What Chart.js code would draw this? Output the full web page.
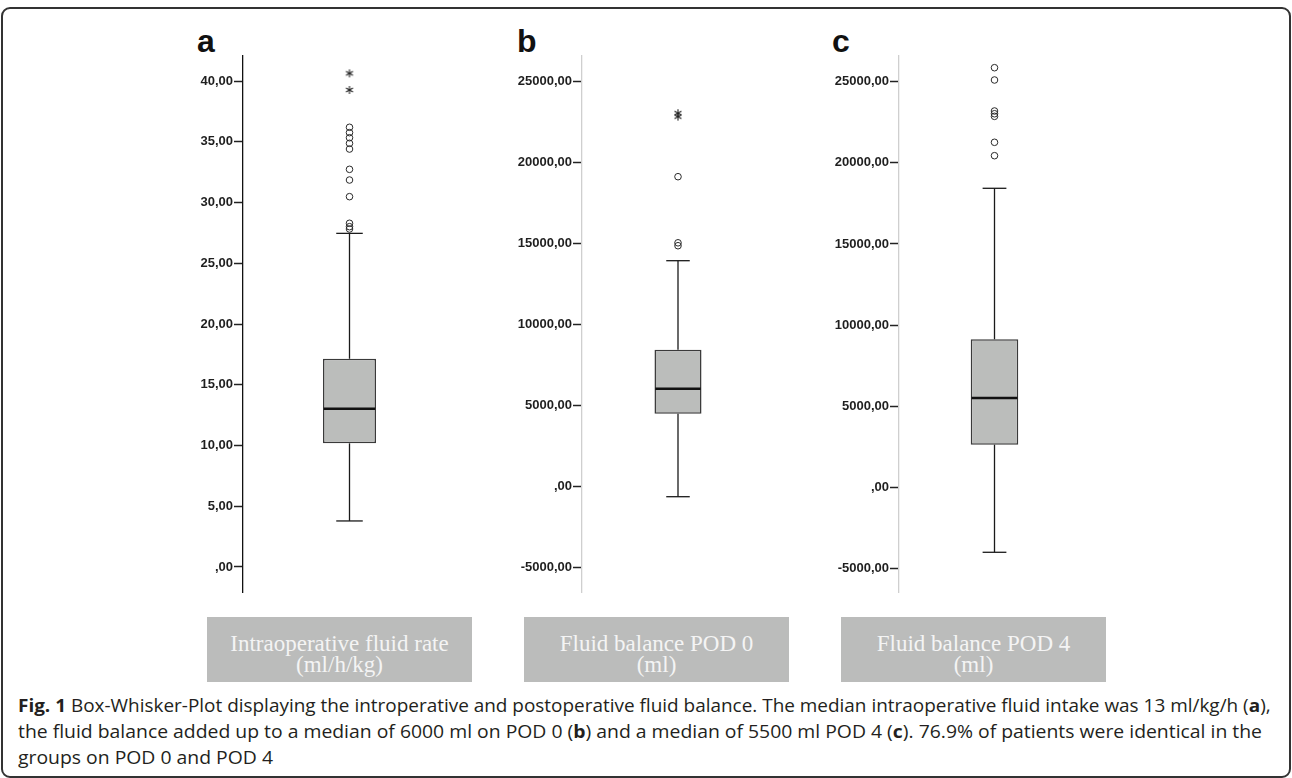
<!DOCTYPE html>
<html>
<head>
<meta charset="utf-8">
<script src="https://cdn.jsdelivr.net/npm/chart.js@4.4.1/dist/chart.umd.min.js"></script>
<style>
  html, body { margin: 0; padding: 0; background: #fff; }
  body { width: 1292px; height: 778px; position: relative; overflow: hidden; font-family: "Liberation Sans", Arial, sans-serif; }
  .frame { position: absolute; left: 1px; top: 7px; width: 1286px; height: 767px; border: 2px solid #333; border-radius: 9px; }
  .panel { position: absolute; top: 55px; }
  .letter { position: absolute; top: 25px; font: bold 32px/32px "Liberation Sans", Arial, sans-serif; color: #111; }
  .label { position: absolute; top: 617px; width: 265px; height: 65px; background: #bbbcbb; color: #f4f4f4;
           font: 23px/21px "Liberation Serif", "Times New Roman", serif; text-align: center; box-sizing: border-box; padding-top: 16px; }
  .caption { position: absolute; left: 18px; font: 18px/26px "Open Sans", "Noto Sans", sans-serif;
             color: #231f20; white-space: nowrap; transform-origin: 0 0; }
</style>
</head>
<body>
<div class="frame"></div>

<div class="letter" style="left:197px">a</div>
<div class="letter" style="left:517px">b</div>
<div class="letter" style="left:832px">c</div>

<canvas id="rateChart" class="panel" style="left:170px" width="286" height="538"></canvas>
<canvas id="pod0Chart" class="panel" style="left:492px" width="282" height="538"></canvas>
<canvas id="pod4Chart" class="panel" style="left:809px" width="281" height="538"></canvas>

<div class="label" style="left:207px">Intraoperative fluid rate<br>(ml/h/kg)</div>
<div class="label" style="left:524px">Fluid balance POD 0<br>(ml)</div>
<div class="label" style="left:841px">Fluid balance POD 4<br>(ml)</div>

<div class="caption" id="cap1" style="top:692px"><b>Fig. 1</b> Box-Whisker-Plot displaying the introperative and postoperative fluid balance. The median intraoperative fluid intake was 13 ml/kg/h (<b>a</b>),</div>
<div class="caption" id="cap2" style="top:718px">the fluid balance added up to a median of 6000 ml on POD 0 (<b>b</b>) and a median of 5500 ml POD 4 (<b>c</b>). 76.9% of patients were identical in the</div>
<div class="caption" id="cap3" style="top:744px">groups on POD 0 and POD 4</div>

<script>
// box stats: [lower whisker, Q1, median, Q3, upper whisker]
const rateBox = [3.79, 10.18, 13.03, 17.14, 27.46];
const rateOutliers = [27.82, 28.01, 28.29, 30.48, 31.85, 32.73, 34.40, 34.87, 35.33, 35.75, 36.19];
const rateExtremes = [39.26, 40.63];
const rateRange = [-2.14, 42.14];
const rateTicks = [0, 5, 10, 15, 20, 25, 30, 35, 40];

const pod0Box = [-642, 4481, 6025, 8432, 13926];
const pod0Outliers = [14850, 15030, 19111];
const pod0Extremes = [22820, 23030];
const pod0Range = [-6586, 26623];

const pod4Box = [-4007, 2626, 5505, 9125, 18434];
const pod4Outliers = [20444, 21270, 22870, 23030, 23200, 25111, 25869];
const pod4Extremes = [];
const pod4Range = [-6517, 26652];

const balanceTicks = [-5000, 0, 5000, 10000, 15000, 20000, 25000];

document.addEventListener("DOMContentLoaded", () => {
    initBoxChart("rateChart", rateBox, rateOutliers, rateExtremes, rateRange, rateTicks, { axisWidth: 73, share: 0.249, border: '#111' });
    initBoxChart("pod0Chart", pod0Box, pod0Outliers, pod0Extremes, pod0Range, balanceTicks, { axisWidth: 90, share: 0.245, border: '#cfcfcf' });
    initBoxChart("pod4Chart", pod4Box, pod4Outliers, pod4Extremes, pod4Range, balanceTicks, { axisWidth: 90, share: 0.249, border: '#cfcfcf' });
    fitCaption();
});

/**
 * SPSS style asterisk marker for extreme values
 */
function asteriskMarker() {
    const c = document.createElement('canvas');
    c.width = 10; c.height = 10;
    const g = c.getContext('2d');
    g.strokeStyle = '#222';
    g.lineWidth = 1.1;
    for (let k = 0; k < 3; k++) {
        const a = Math.PI / 2 + k * Math.PI / 3;
        g.beginPath();
        g.moveTo(5 + 4 * Math.cos(a), 5 + 4 * Math.sin(a));
        g.lineTo(5 - 4 * Math.cos(a), 5 - 4 * Math.sin(a));
        g.stroke();
    }
    return c;
}

function commaFormat(v) {
    if (v === 0) return ',00';
    return v.toFixed(2).replace('.', ',');
}

/**
 * One box plot: floating bar for the box, plugin for whiskers + median, scatter for outliers
 */
function initBoxChart(id, stats, outliers, extremes, range, tickValues, look) {
    const [lo, q1, med, q3, hi] = stats;

    const whiskers = {
        id: 'whiskers',
        afterDatasetsDraw(chart) {
            const bar = chart.getDatasetMeta(0).data[0];
            const y = chart.scales.y;
            const ctx = chart.ctx;
            const cap = bar.width / 4;
            const seg = (x1, y1, x2, y2) => { ctx.beginPath(); ctx.moveTo(x1, y1); ctx.lineTo(x2, y2); ctx.stroke(); };
            ctx.save();
            ctx.strokeStyle = '#1a1a1a';
            ctx.lineWidth = 1.3;
            seg(bar.x, y.getPixelForValue(q3), bar.x, y.getPixelForValue(hi));
            seg(bar.x, y.getPixelForValue(q1), bar.x, y.getPixelForValue(lo));
            seg(bar.x - cap, y.getPixelForValue(hi), bar.x + cap, y.getPixelForValue(hi));
            seg(bar.x - cap, y.getPixelForValue(lo), bar.x + cap, y.getPixelForValue(lo));
            ctx.lineWidth = 2.6;
            ctx.strokeStyle = '#111';
            seg(bar.x - bar.width / 2 + 0.8, y.getPixelForValue(med), bar.x + bar.width / 2 - 0.8, y.getPixelForValue(med));
            ctx.restore();
        }
    };

    new Chart(document.getElementById(id), {
        type: 'bar',
        data: {
            labels: ['box'],
            datasets: [
                {
                    data: [[q1, q3]],
                    backgroundColor: '#bbbdbb',
                    borderColor: '#3a3a3a',
                    borderWidth: 1.5,
                    borderSkipped: false,
                    barPercentage: look.share,
                    categoryPercentage: 1
                },
                {
                    type: 'scatter',
                    data: outliers.map(v => ({ x: 'box', y: v })),
                    pointStyle: 'circle',
                    pointRadius: 3.3,
                    pointBorderWidth: 1,
                    pointBorderColor: '#2a2a2a',
                    pointBackgroundColor: 'rgba(255,255,255,0)'
                },
                {
                    type: 'scatter',
                    data: extremes.map(v => ({ x: 'box', y: v })),
                    pointStyle: asteriskMarker(),
                    pointRadius: 4
                }
            ]
        },
        options: {
            responsive: false,
            animation: false,
            events: [],
            layout: { padding: 0, autoPadding: false },
            plugins: { legend: { display: false }, tooltip: { enabled: false } },
            scales: {
                x: { display: false },
                y: {
                    min: range[0],
                    max: range[1],
                    border: { display: true, color: look.border, width: 1.3 },
                    grid: { drawOnChartArea: false, drawTicks: true, tickLength: 9, tickColor: '#222', tickWidth: 1.5 },
                    ticks: {
                        autoSkip: false,
                        padding: 1,
                        color: '#1f1f1f',
                        font: { family: "'Liberation Sans', Arial, sans-serif", weight: 'bold', size: 13 },
                        callback: v => commaFormat(v)
                    },
                    afterBuildTicks: scale => {
                        scale.ticks = tickValues.map(v => ({ value: v }));
                    },
                    afterFit: scale => {
                        scale.width = look.axisWidth;
                        scale.paddingTop = 0;
                        scale.paddingBottom = 0;
                    }
                }
            }
        },
        plugins: [whiskers]
    });
}

/**
 * Squeeze caption lines to the justified widths of the original figure
 */
function fitCaption() {
    const k1 = 1253 / document.getElementById('cap1').offsetWidth;
    const k2 = 1244 / document.getElementById('cap2').offsetWidth;
    document.getElementById('cap1').style.transform = `scaleX(${k1})`;
    document.getElementById('cap2').style.transform = `scaleX(${k2})`;
    document.getElementById('cap3').style.transform = `scaleX(${k2})`;
}
</script>
</body>
</html>
